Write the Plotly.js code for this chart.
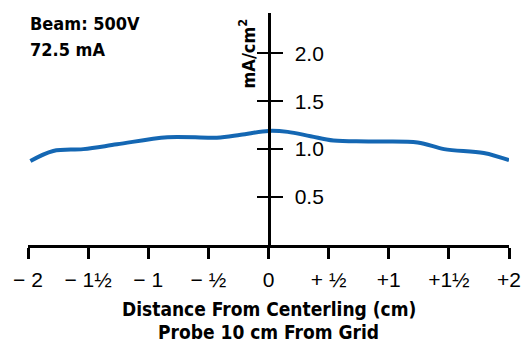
<!DOCTYPE html>
<html>
<head>
<meta charset="utf-8">
<script src="https://cdn.plot.ly/plotly-3.0.1.min.js"></script>
<style>html,body{margin:0;padding:0;background:#fff}#chart{width:528px;height:345px}</style>
</head>
<body>
<div id="chart"></div>
<script>
const distance = [-1.98, -1.79, -1.54, -1.26, -0.84, -0.43, -0.23, 0.0, 0.16, 0.35, 0.54, 0.83, 1.24, 1.46, 1.79, 2.0];
const density  = [0.875, 0.98, 1.0, 1.05, 1.125, 1.12, 1.15, 1.19, 1.18, 1.135, 1.09, 1.08, 1.07, 1.0, 0.96, 0.885];
const xTickVals = [-2, -1.5, -1, -0.5, 0, 0.5, 1, 1.5, 2];
const xTickText = ["\u2212 2", "\u2212 1\u00bd", "\u2212 1", "\u2212 \u00bd", "0", "+ \u00bd", "+1", "+1\u00bd", "+2"];
const yTickVals = [0.5, 1.0, 1.5, 2.0];
const yTickText = ["0.5", "1.0", "1.5", "2.0"];
const xTitleLines = ["Distance From Centerling (cm)", "Probe 10 cm From Grid"];
const beamLines = ["Beam: 500V", "72.5 mA"];

const heavy = {family: "'DejaVu Sans Condensed', 'DejaVu Sans', sans-serif", weight: "bold", color: "#000"};
const plain = {family: "'Liberation Sans', Arial, sans-serif", size: 21, color: "#000"};

const trace = {
  x: distance, y: density, type: "scatter", mode: "lines",
  line: {color: "#1467b3", width: 4, shape: "spline", smoothing: 1},
  hoverinfo: "skip", showlegend: false
};
const trace2 = {x: [0], y: [0], yaxis: "y2", mode: "markers", marker: {opacity: 0}, hoverinfo: "skip", showlegend: false};

const layout = {
  width: 528, height: 345,
  margin: {l: 28, r: 19, t: 13, b: 100},
  paper_bgcolor: "#fff", plot_bgcolor: "#fff",
  showlegend: false,
  xaxis: {
    range: [-2, 2], showgrid: false, zeroline: false,
    showline: true, linecolor: "#000", linewidth: 3,
    ticks: "outside", ticklen: 11, tickwidth: 3, tickcolor: "#000",
    tickvals: xTickVals, ticktext: xTickText, tickfont: plain,
    ticklabelstandoff: 3
  },
  yaxis: {
    range: [0, 2.42], showgrid: false, zeroline: false,
    anchor: "free", position: 0.5, side: "right",
    showline: true, linecolor: "#000", linewidth: 3,
    ticks: "outside", ticklen: 12, tickwidth: 2, tickcolor: "#000",
    tickvals: yTickVals, ticktext: yTickText, tickfont: plain,
    ticklabelstandoff: 8
  },
  yaxis2: {
    range: [0, 2.42], overlaying: "y", showgrid: false, zeroline: false,
    anchor: "free", position: 0.5, side: "left",
    showline: false, ticks: "outside", ticklen: 12, tickwidth: 2, tickcolor: "#000",
    tickvals: yTickVals, showticklabels: false
  },
  annotations: [
    {xref: "paper", yref: "paper", x: 0, y: 1, xanchor: "left", yanchor: "middle", yshift: -10,
     text: beamLines[0], showarrow: false, font: Object.assign({size: 18}, heavy)},
    {xref: "paper", yref: "paper", x: 0, y: 1, xanchor: "left", yanchor: "middle", yshift: -36,
     text: beamLines[1], showarrow: false, font: Object.assign({size: 18}, heavy)},
    {xref: "x", yref: "paper", x: 0, y: 1, xanchor: "right", yanchor: "top", xshift: -7, yshift: -4,
     text: "mA/cm<sup>2</sup>", textangle: -90, showarrow: false, font: Object.assign({size: 18}, heavy)},
    {xref: "paper", yref: "paper", x: 0.5, y: 0, xanchor: "center", yanchor: "middle", yshift: -64,
     text: xTitleLines[0], showarrow: false, font: Object.assign({size: 19}, heavy)},
    {xref: "paper", yref: "paper", x: 0.5, y: 0, xanchor: "center", yanchor: "middle", yshift: -87,
     text: xTitleLines[1], showarrow: false, font: Object.assign({size: 19}, heavy)}
  ]
};

Plotly.newPlot("chart", [trace, trace2], layout, {staticPlot: true, displayModeBar: false});
</script>
</body>
</html>
